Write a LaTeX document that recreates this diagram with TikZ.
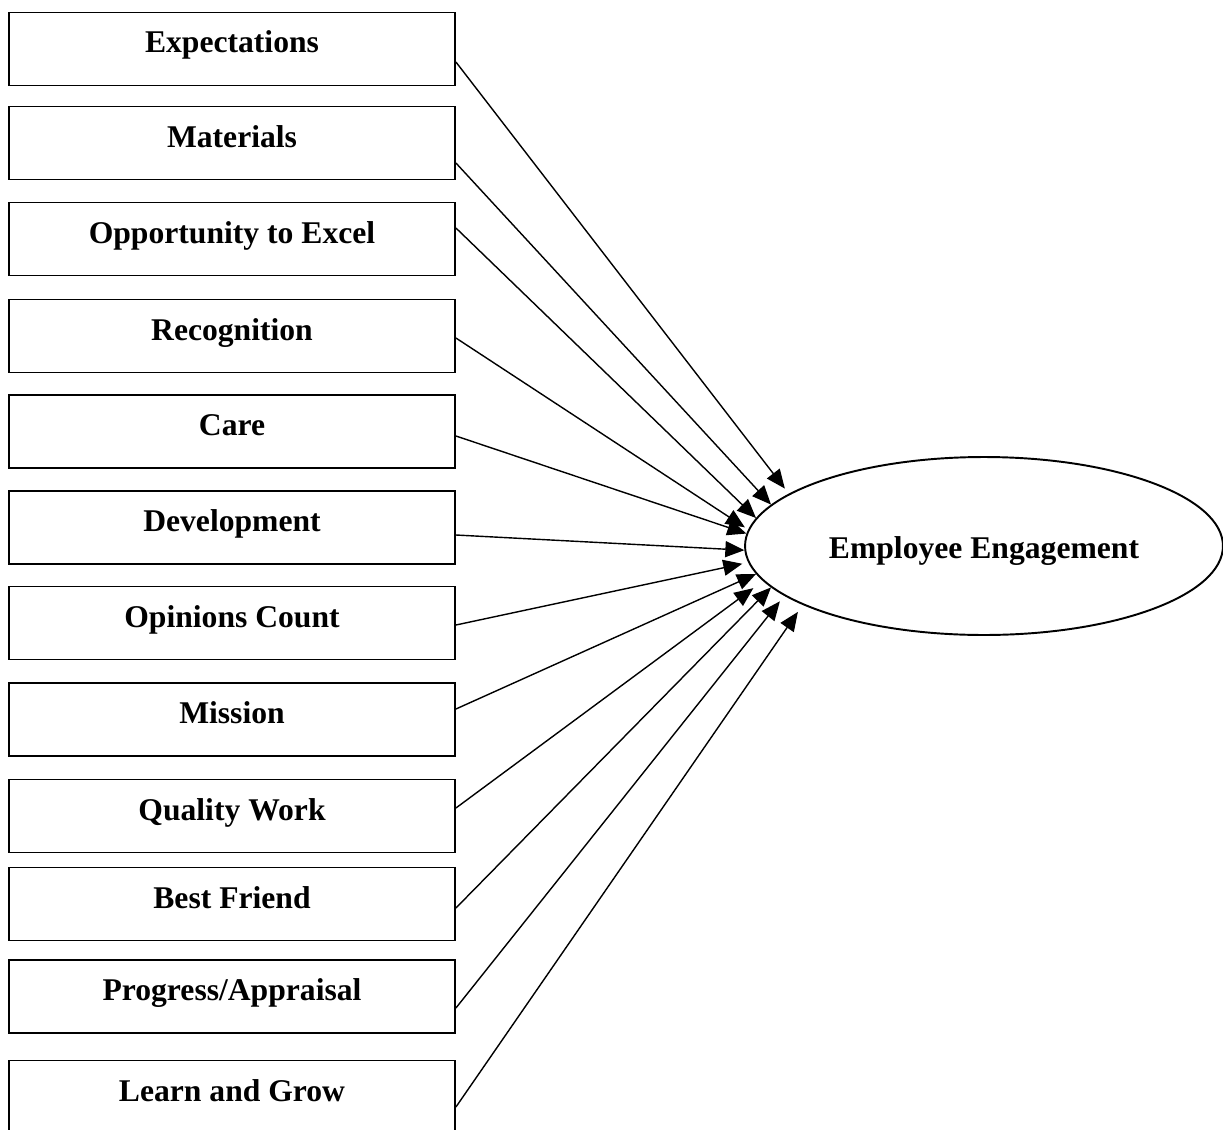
\documentclass[tikz,border=0pt]{standalone}
\usepackage{fontspec}
\setmainfont{Liberation Serif}
\usetikzlibrary{arrows.meta,shapes.geometric}
\tikzset{
    factor/.style={draw, line width=1.1pt, minimum width=8.92cm, minimum height=1.46cm,
        inner sep=0pt, text height=0.4cm, text depth=0.24cm,
        font=\fontsize{18}{22}\selectfont\bfseries},
    outcome/.style={draw, ellipse, line width=1.1pt, minimum width=9.56cm, minimum height=3.56cm,
        inner sep=0pt, text height=0.6cm, text depth=0.12cm,
        font=\fontsize{18}{22}\selectfont\bfseries},
    link/.style={line width=0.8pt, -{Triangle[length=0.38cm,width=0.32cm]}}
}
\begin{document}
\begin{tikzpicture}[x=0.02cm,y=-0.02cm]
\useasboundingbox (0,0) rectangle (1223,1129);

\node[factor] (exp) at (232,49) {Expectations};
\node[factor] (mat) at (232,143) {Materials};
\node[factor] (opp) at (232,239) {Opportunity to Excel};
\node[factor] (rec) at (232,336) {Recognition};
\node[factor] (care) at (232,431.5) {Care};
\node[factor] (dev) at (232,527.5) {Development};
\node[factor] (opin) at (232,623) {Opinions Count};
\node[factor] (miss) at (232,719.5) {Mission};
\node[factor] (qual) at (232,816) {Quality Work};
\node[factor] (friend) at (232,904) {Best Friend};
\node[factor] (prog) at (232,996.5) {Progress/Appraisal};
\node[factor] (learn) at (232,1097) {Learn and Grow};

\node[outcome] (eng) at (984,546) {Employee Engagement};

\draw[link, shorten >=0.13cm] ([yshift=-0.26cm]exp.east) -- (eng.165.9);
\draw[link] ([yshift=-0.40cm]mat.east) -- (eng.169.2);
\draw[link] ([yshift=0.22cm]opp.east) -- (eng.173.0);
\draw[link, shorten >=0.08cm] ([yshift=-0.04cm]rec.east) -- (eng.176.7);
\draw[link] ([yshift=-0.09cm]care.east) -- (eng.177.6);
\draw[link] ([yshift=-0.15cm]dev.east) -- (eng.181);
\draw[link, shorten >=0.12cm] ([yshift=-0.04cm]opin.east) -- (eng.184);
\draw[link] ([yshift=0.21cm]miss.east) -- (eng.187);
\draw[link, shorten >=0.24cm] ([yshift=0.16cm]qual.east) -- (eng.189.2);
\draw[link] ([yshift=-0.08cm]friend.east) -- (eng.191.2);
\draw[link, shorten >=0.14cm] ([yshift=-0.23cm]prog.east) -- (eng.194.3);
\draw[link, shorten >=0.17cm] ([yshift=-0.20cm]learn.east) -- (eng.198.2);
\end{tikzpicture}
\end{document}
